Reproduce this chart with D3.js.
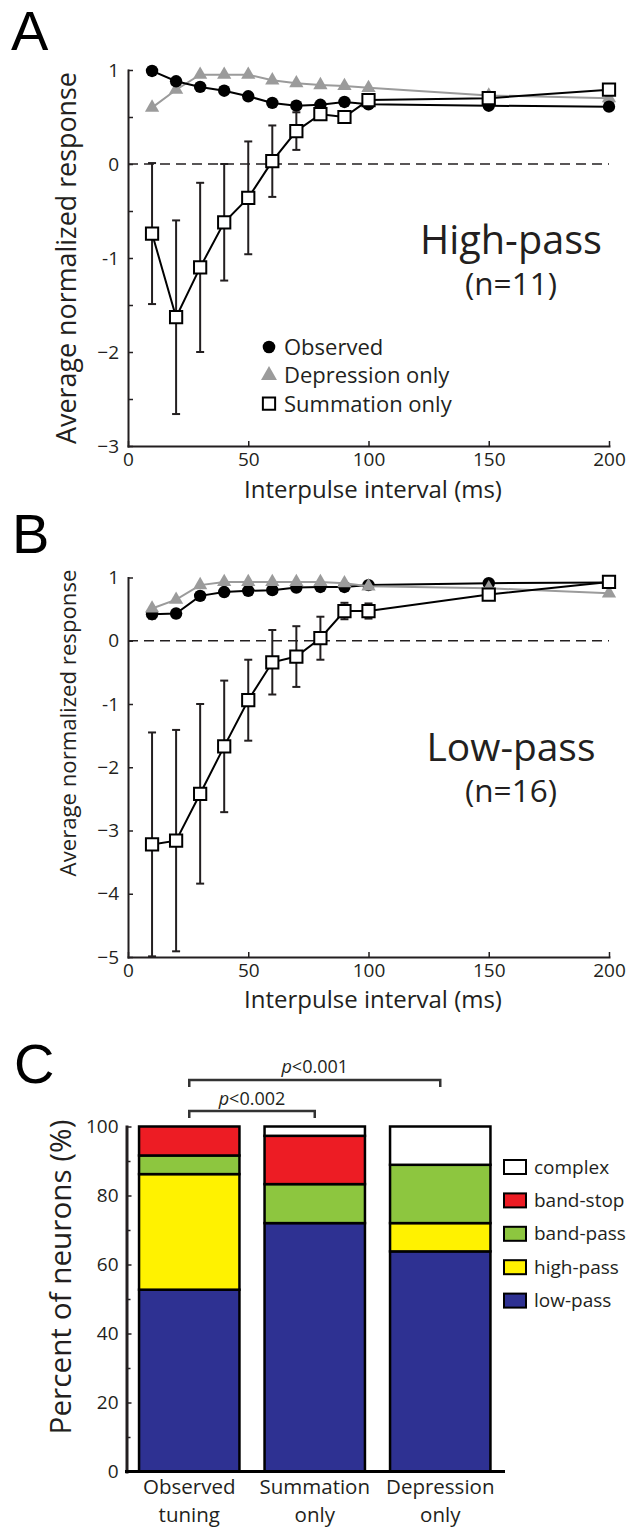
<!DOCTYPE html>
<html><head><meta charset="utf-8">
<script src="https://cdn.jsdelivr.net/npm/d3@7"></script>
<style>
body{margin:0;background:#fff;}
svg{display:block;}
</style></head><body>
<svg id="chart" width="629" height="1530"></svg>
<script>
// ---------- DATA ----------
const intervals = [10,20,30,40,50,60,70,80,90,100,150,200];
const xTickValues = [0,50,100,150,200];

// Panel A (High-pass, n=11)
const observedA   = [0.99,0.88,0.82,0.78,0.72,0.65,0.62,0.63,0.66,0.635,0.62,0.61];
const depressionA = [0.60,0.79,0.95,0.95,0.95,0.89,0.86,0.84,0.83,0.81,0.73,0.70];
const summationA  = [-0.74,-1.63,-1.10,-0.62,-0.36,0.03,0.35,0.53,0.50,0.68,0.70,0.79];
const summationErrA = [0.75,1.03,0.90,0.62,0.60,0.38,0.20,0.04,0.06,0.03,0.02,0.03];
const yTicksA = [-3,-2,-1,0,1];
const yMinorA = [-2.5,-1.5,-0.5,0.5];

// Panel B (Low-pass, n=16)
const observedB   = [0.42,0.43,0.71,0.77,0.79,0.80,0.84,0.85,0.85,0.88,0.91,0.92];
const observedErrB = [0.07,0.06,0.04,0.03,0.03,0.02,0.02,0.02,0.02,0.02,0.02,0.02];
const depressionB = [0.51,0.65,0.88,0.93,0.93,0.93,0.93,0.93,0.91,0.86,0.83,0.75];
const summationB  = [-3.22,-3.16,-2.42,-1.67,-0.94,-0.34,-0.25,0.04,0.47,0.47,0.73,0.93];
const summationErrB = [1.77,1.75,1.42,1.04,0.64,0.51,0.48,0.34,0.13,0.12,0.03,0.03];
const yTicksB = [-5,-4,-3,-2,-1,0,1];

// Panel C (stacked percentages)
const categories = ["Observed tuning","Summation only","Depression only"];
const categoryLines = [["Observed","tuning"],["Summation","only"],["Depression","only"]];
const tuningTypes = ["low-pass","high-pass","band-pass","band-stop","complex"];
const lowPass  = [52.7, 72.0, 63.8];
const highPass = [33.5, 0.0, 8.2];
const bandPass = [5.4, 11.3, 16.9];
const bandStop = [8.4, 14.0, 0.0];
const complexT = [0.0, 2.7, 11.1];
const yTicksC = [0,20,40,60,80,100];
const yMinorC = [10,30,50,70,90];
const legendOrder = ["complex","band-stop","band-pass","high-pass","low-pass"];

// ---------- STYLE ----------
const FONT = "'Open Sans', sans-serif";
const INK = "#231f20";
const GRAY = "#9b9b9b";
const typeColor = {"low-pass":"#2e3192","high-pass":"#fff200","band-pass":"#8dc63f","band-stop":"#ed1c24","complex":"#ffffff"};

const svg = d3.select("#chart");

function fitText(sel, w){
  sel.each(function(){
    this.setAttribute("font-size", 100);
    const L = this.getComputedTextLength();
    this.setAttribute("font-size", 100*w/L);
  });
  return sel;
}
const tickFmt = d => d === -1 ? "-1" : (d < 0 ? "\u2212" + (-d) : String(d));

function styleAxis(s, w){
  s.attr("font-family", FONT).attr("font-size", 19);
  s.select(".domain").attr("stroke", INK).attr("stroke-width", w).attr("stroke-linecap","square");
  s.selectAll(".tick line").attr("stroke", INK).attr("stroke-width", 1.5);
  s.selectAll(".tick text").attr("fill", INK);
}

function panelLetter(txt, x, y){
  svg.append("text").attr("x", x).attr("y", y).text(txt)
    .attr("font-family","'Liberation Sans', Arial, sans-serif").attr("font-size",56).attr("fill","#000");
}

function linePanel(opt){
  const g = svg.append("g");
  const x = d3.scaleLinear().domain([0,200]).range([128,609]);
  const y = d3.scaleLinear().domain(opt.yDomain).range(opt.yRange);
  // axes
  g.append("g").attr("transform",`translate(${x.range()[0]},0)`)
    .call(d3.axisLeft(y).tickValues(opt.yTicks).tickFormat(tickFmt).tickSizeInner(-5).tickSizeOuter(0).tickPadding(9))
    .call(s => styleAxis(s, 2));
  if (opt.yMinor) {
    g.append("g").attr("transform",`translate(${x.range()[0]},0)`)
      .call(d3.axisLeft(y).tickValues(opt.yMinor).tickFormat("").tickSizeInner(-5).tickSizeOuter(0))
      .call(s => { s.select(".domain").remove(); s.selectAll(".tick line").attr("stroke",INK).attr("stroke-width",1.5); });
  }
  g.append("g").attr("transform",`translate(0,${y.range()[0]})`)
    .call(d3.axisBottom(x).tickValues(xTickValues).tickSizeInner(-5).tickSizeOuter(0).tickPadding(7))
    .call(s => styleAxis(s, 2));
  // zero dashed line
  g.append("line").attr("x1", x(0)).attr("x2", x(200)).attr("y1", y(0)).attr("y2", y(0))
    .attr("stroke", INK).attr("stroke-width",1.5).attr("stroke-dasharray","10,6");
  // axis titles
  fitText(g.append("text").attr("x", 373).attr("y", opt.xTitleY).attr("text-anchor","middle")
    .attr("font-family",FONT).attr("fill",INK).text("Interpulse interval (ms)"), 258);
  fitText(g.append("text").attr("transform",`translate(${opt.yTitleX},${opt.yTitleC}) rotate(-90)`)
    .attr("text-anchor","middle").attr("font-family",FONT).attr("fill",INK).text("Average normalized response"), opt.yTitleLen);
  // series
  const line = d3.line().x((d,i)=>x(intervals[i])).y(d=>y(d));
  opt.series.forEach(s => {
    const sg = g.append("g");
    sg.append("path").datum(s.values).attr("d", line).attr("fill","none")
      .attr("stroke", s.lineColor).attr("stroke-width", 2);
    if (s.err) {
      const eb = sg.selectAll(".eb").data(s.values).join("g");
      eb.append("line").attr("x1",(d,i)=>x(intervals[i])).attr("x2",(d,i)=>x(intervals[i]))
        .attr("y1",(d,i)=>y(d - s.err[i])).attr("y2",(d,i)=>y(d + s.err[i]))
        .attr("stroke", INK).attr("stroke-width",2);
      [-1,1].forEach(sgn => {
        eb.append("line").attr("x1",(d,i)=>x(intervals[i])-4).attr("x2",(d,i)=>x(intervals[i])+4)
          .attr("y1",(d,i)=>y(d + sgn*s.err[i])).attr("y2",(d,i)=>y(d + sgn*s.err[i]))
          .attr("stroke", INK).attr("stroke-width",2);
      });
    }
    sg.selectAll(".m").data(s.values).join("path")
      .attr("transform",(d,i)=>`translate(${x(intervals[i])},${y(d)})`)
      .attr("d", d3.symbol().type(s.symbol).size(s.size)())
      .attr("fill", s.fill).attr("stroke", s.stroke).attr("stroke-width", s.stroke === "none" ? 0 : 2);
  });
  // labels
  fitText(g.append("text").attr("x",511).attr("y",opt.bigY).attr("text-anchor","middle")
    .attr("font-family",FONT).attr("fill",INK).text(opt.big), opt.bigW);
  fitText(g.append("text").attr("x",511).attr("y",opt.nY).attr("text-anchor","middle")
    .attr("font-family",FONT).attr("fill",INK).text(opt.n), 92);
  return {g, x, y};
}

const S = {
  obs: (v, e) => ({values:v, err:e, lineColor:"#000", symbol:d3.symbolCircle, size:Math.PI*6.2*6.2, fill:"#000", stroke:"none"}),
  dep: (v) => ({values:v, lineColor:GRAY, symbol:d3.symbolTriangle, size:88, fill:GRAY, stroke:"none"}),
  sum: (v, e) => ({values:v, err:e, lineColor:"#000", symbol:d3.symbolSquare, size:150, fill:"#fff", stroke:"#000"})
};

// Panel A
panelLetter("A", 11, 50);
linePanel({
  yDomain:[-3,1], yRange:[446,70], yTicks:yTicksA, yMinor:yMinorA,
  xTitleY:498, yTitleX:76, yTitleC:258, yTitleLen:372,
  series:[S.dep(depressionA), S.obs(observedA), S.sum(summationA, summationErrA)],
  big:"High-pass", bigY:254, bigW:182, n:"(n=11)", nY:295
});
// legend A
const legA = [
  {label:"Observed", symbol:d3.symbolCircle, size:Math.PI*6.3*6.3, fill:"#000", stroke:"none"},
  {label:"Depression only", symbol:d3.symbolTriangle, size:110, fill:GRAY, stroke:"none"},
  {label:"Summation only", symbol:d3.symbolSquare, size:150, fill:"#fff", stroke:"#000"}
];
const lgA = svg.append("g").selectAll("g").data(legA).join("g")
  .attr("transform",(d,i)=>`translate(269,${347 + i*28.3})`);
lgA.append("path").attr("d", d => d3.symbol().type(d.symbol).size(d.size)())
  .attr("fill", d=>d.fill).attr("stroke", d=>d.stroke).attr("stroke-width", d=>d.stroke==="none"?0:2);
lgA.append("text").attr("x",15).attr("dy","0.36em").attr("font-family",FONT).attr("font-size",22)
  .attr("fill",INK).text(d=>d.label);

// Panel B
panelLetter("B", 12, 553);
linePanel({
  yDomain:[-5,1], yRange:[957,577.5], yTicks:yTicksB, yMinor:null,
  xTitleY:1008, yTitleX:76, yTitleC:723, yTitleLen:307,
  series:[S.obs(observedB, observedErrB), S.dep(depressionB), S.sum(summationB, summationErrB)],
  big:"Low-pass", bigY:761, bigW:169, n:"(n=16)", nY:802
});

// Panel C
panelLetter("C", 14, 1083);
const gC = svg.append("g");
const xC = d3.scaleBand().domain(categories).range([126.5,503]).paddingInner(0.2).paddingOuter(0.1);
const yC = d3.scaleLinear().domain([0,100]).range([1471.5,1126.5]);
const rows = categories.map((c,i)=>({cat:c, "low-pass":lowPass[i], "high-pass":highPass[i],
  "band-pass":bandPass[i], "band-stop":bandStop[i], "complex":complexT[i]}));
const stacked = d3.stack().keys(tuningTypes)(rows);
stacked.forEach(layer => {
  gC.append("g").selectAll("rect").data(layer.filter(d => d[1]-d[0] > 0.01)).join("rect")
    .attr("x", d => xC(d.data.cat)).attr("width", xC.bandwidth())
    .attr("y", d => yC(d[1])).attr("height", d => yC(d[0]) - yC(d[1]))
    .attr("fill", typeColor[layer.key]).attr("stroke","#000").attr("stroke-width",2.5);
});
gC.append("g").attr("transform",`translate(126.5,0)`)
  .call(d3.axisLeft(yC).tickValues(yTicksC).tickSizeInner(-5).tickSizeOuter(0).tickPadding(8))
  .call(s => styleAxis(s, 3));
gC.append("g").attr("transform",`translate(126.5,0)`)
  .call(d3.axisLeft(yC).tickValues(yMinorC).tickFormat("").tickSizeInner(-4).tickSizeOuter(0))
  .call(s => { s.select(".domain").remove(); s.selectAll(".tick line").attr("stroke",INK).attr("stroke-width",1.5); });
gC.append("g").attr("transform",`translate(0,${yC(0)})`)
  .call(d3.axisBottom(xC).tickValues([]).tickSizeOuter(0))
  .call(s => { s.select(".domain").attr("stroke","#000").attr("stroke-width",3).attr("d","M125,0H505"); });
// category labels
const catG = gC.append("g").selectAll("text").data(categories).join("text")
  .attr("x", d => xC(d) + xC.bandwidth()/2).attr("text-anchor","middle")
  .attr("font-family",FONT).attr("font-size",20.5).attr("fill",INK);
catG.selectAll("tspan").data((d,i)=>categoryLines[i]).join("tspan")
  .attr("x", function(){ return this.parentNode.getAttribute("x"); })
  .attr("y",(d,j)=> 1494 + j*28).text(d=>d);
// y title
fitText(gC.append("text").attr("transform","translate(71,1277) rotate(-90)").attr("text-anchor","middle")
  .attr("font-family",FONT).attr("fill",INK).text("Percent of neurons (%)"), 315);
// significance brackets
const cx = c => xC(c) + xC.bandwidth()/2;
const brackets = [
  {a:categories[0], b:categories[2], y:1080, label:"0.001", ty:1073},
  {a:categories[0], b:categories[1], y:1111, label:"0.002", ty:1105}
];
brackets.forEach(bk => {
  gC.append("path").attr("d", `M${cx(bk.a)},${bk.y+7}V${bk.y}H${cx(bk.b)}V${bk.y+7}`)
    .attr("fill","none").attr("stroke","#333").attr("stroke-width",2.5);
  const t = gC.append("text").attr("x",(cx(bk.a)+cx(bk.b))/2).attr("y",bk.ty).attr("text-anchor","middle")
    .attr("font-family",FONT).attr("font-size",18).attr("fill",INK);
  t.append("tspan").attr("font-style","italic").text("p");
  t.append("tspan").text("<" + bk.label);
});
// legend C
const lgC = gC.append("g").selectAll("g").data(legendOrder).join("g")
  .attr("transform",(d,i)=>`translate(504,${1167 + i*33.4})`);
lgC.append("rect").attr("x",0).attr("y",-7).attr("width",22).attr("height",14)
  .attr("fill", d=>typeColor[d]).attr("stroke","#000").attr("stroke-width",2);
lgC.append("text").attr("x",30).attr("dy","0.35em").attr("font-family",FONT).attr("font-size",19)
  .attr("fill",INK).text(d=>d);
</script>
</body></html>
